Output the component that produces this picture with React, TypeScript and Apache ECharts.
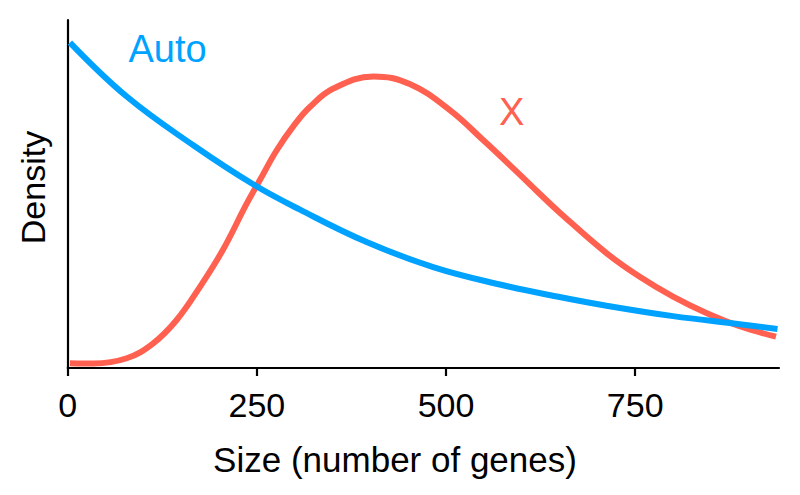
import React, { useEffect, useRef } from "react";
import * as echarts from "echarts";

const xTicks = [0, 250, 500, 750];

// [size, density]
const autoSeries: [number, number][] = [
  [3, 0.935], [78, 0.78], [166, 0.64], [245, 0.528], [307, 0.455],
  [395, 0.362], [483, 0.29], [571, 0.24], [650, 0.204], [712, 0.179],
  [800, 0.149], [888, 0.126], [938, 0.112],
];

const xSeries: [number, number][] = [
  [3, 0.014], [34, 0.013], [78, 0.028], [113, 0.071], [144, 0.138],
  [175, 0.234], [205, 0.339], [236, 0.47], [254, 0.54], [276, 0.625],
  [300, 0.7], [320, 0.75], [351, 0.803], [404, 0.838], [452, 0.816],
  [505, 0.741], [549, 0.655], [593, 0.565], [624, 0.5], [650, 0.447],
  [712, 0.33], [756, 0.262], [800, 0.205], [844, 0.158], [888, 0.12],
  [936, 0.09],
];

const BLUE = "#00A2FF";
const RED = "#FF6050";
const FONT = "'Liberation Sans', Arial, Helvetica, sans-serif";

export default function App() {
  const ref = useRef<HTMLDivElement>(null);
  useEffect(() => {
    if (!ref.current) return;
    const chart = echarts.init(ref.current, undefined, { renderer: "svg" });
    chart.setOption({
      animation: false,
      backgroundColor: "#ffffff",
      grid: { left: 67.7, right: 21, top: 20, bottom: 127, containLabel: false },
      xAxis: {
        type: "value",
        min: 0,
        max: 940,
        interval: 250,
        axisLine: { show: true, onZero: false, lineStyle: { color: "#000", width: 2.2 } },
        axisTick: {
          show: true,
          inside: false,
          length: 8,
          customValues: xTicks,
          lineStyle: { color: "#000", width: 2.2 },
        },
        axisLabel: {
          customValues: xTicks,
          margin: 20,
          fontSize: 34,
          color: "#000",
          fontFamily: FONT,
        },
        splitLine: { show: false },
      },
      yAxis: {
        type: "value",
        min: 0,
        max: 1,
        axisLine: { show: true, lineStyle: { color: "#000", width: 2.2 } },
        axisTick: { show: false },
        axisLabel: { show: false },
        splitLine: { show: false },
      },
      series: [
        {
          name: "Auto",
          type: "line",
          data: autoSeries,
          smooth: 0.4,
          showSymbol: false,
          lineStyle: { color: BLUE, width: 6 },
          z: 3,
        },
        {
          name: "X",
          type: "line",
          data: xSeries,
          smooth: 0.4,
          showSymbol: false,
          lineStyle: { color: RED, width: 6 },
          z: 2,
        },
      ],
      graphic: [
        {
          type: "text",
          x: 395,
          y: 459,
          style: {
            text: "Size (number of genes)",
            fontSize: 35,
            fontFamily: FONT,
            fill: "#000",
            align: "center",
            verticalAlign: "middle",
          },
        },
        {
          type: "text",
          x: 32.5,
          y: 187.5,
          rotation: Math.PI / 2,
          style: {
            text: "Density",
            fontSize: 34,
            fontFamily: FONT,
            fill: "#000",
            align: "center",
            verticalAlign: "middle",
          },
        },
        {
          type: "text",
          x: 167.5,
          y: 49,
          style: {
            text: "Auto",
            fontSize: 38,
            fontFamily: FONT,
            fill: BLUE,
            align: "center",
            verticalAlign: "middle",
          },
        },
        {
          type: "text",
          x: 511.7,
          y: 112,
          style: {
            text: "X",
            fontSize: 38,
            fontFamily: FONT,
            fill: RED,
            align: "center",
            verticalAlign: "middle",
          },
        },
      ],
    });
    return () => chart.dispose();
  }, []);
  return <div ref={ref} style={{ width: 800, height: 495, position: "absolute", left: 0, top: 0 }} />;
}
